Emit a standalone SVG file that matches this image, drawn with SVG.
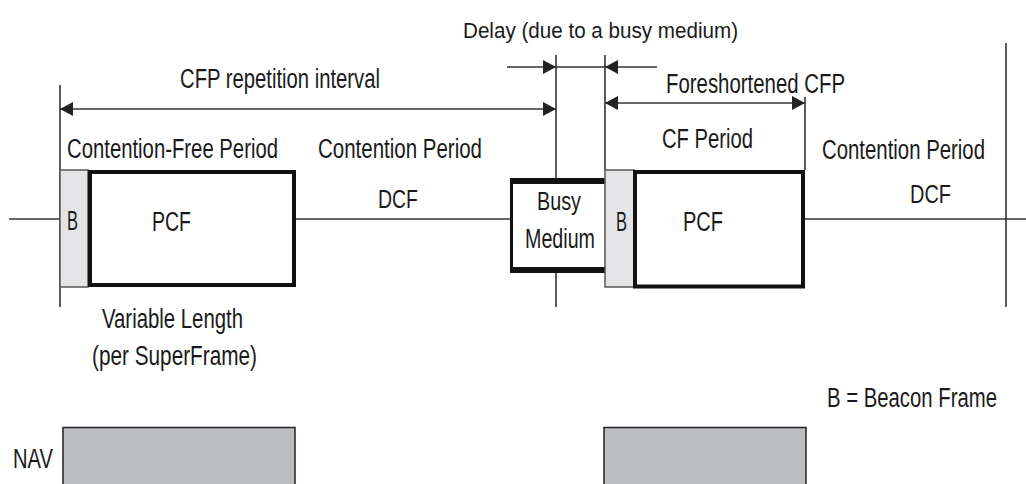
<svg xmlns="http://www.w3.org/2000/svg" width="1026" height="484" viewBox="0 0 1026 484">
<style>
text{font-family:"Liberation Sans",Arial,sans-serif;fill:#1a1a1a;font-size:20.3px}
.ln{stroke:#333;stroke-width:1.6;fill:none}
.beacon{fill:#e4e4e6;stroke:#555;stroke-width:1.5}
.pcf{fill:#fff;stroke:#111;stroke-width:4}
.nav{fill:#bcbdc1;stroke:#222;stroke-width:1.5}
</style>
<defs>
<marker id="ah" markerUnits="userSpaceOnUse" markerWidth="13" markerHeight="14" refX="13" refY="7" orient="auto-start-reverse" viewBox="0 0 13 14">
<path d="M0,0 L13,7 L0,14 z" fill="#222"/>
</marker>
</defs>
<rect width="1026" height="484" fill="#fff"/>
<g id="connectors">
<line class="ln" x1="9" y1="219" x2="60" y2="219"/>
<line class="ln" x1="296" y1="219" x2="510" y2="219"/>
<line class="ln" x1="805" y1="219" x2="1026" y2="219"/>
<line class="ln" x1="60" y1="85" x2="60" y2="307"/>
<line class="ln" x1="556" y1="55" x2="556" y2="307"/>
<line class="ln" x1="605" y1="55" x2="605" y2="170"/>
<line class="ln" x1="805" y1="97" x2="805" y2="170"/>
<line class="ln" x1="1006" y1="43" x2="1006" y2="307"/>
<line class="ln" x1="60" y1="109" x2="556" y2="109" marker-start="url(#ah)" marker-end="url(#ah)"/>
<line class="ln" x1="605" y1="103" x2="805" y2="103" marker-start="url(#ah)" marker-end="url(#ah)"/>
<line class="ln" x1="507" y1="67" x2="556" y2="67" marker-end="url(#ah)"/>
<line class="ln" x1="556" y1="67" x2="605" y2="67"/>
<line class="ln" x1="657" y1="67" x2="605" y2="67" marker-end="url(#ah)"/>
</g>
<g id="beacon1">
<rect class="beacon" x="60" y="170" width="28" height="117"/>
<text transform="translate(67 230) scale(1 1.38)" textLength="11" lengthAdjust="spacingAndGlyphs">B</text>
</g>
<g id="pcf1">
<rect class="pcf" x="90" y="172" width="204" height="113"/>
<text transform="translate(152 231) scale(1 1.38)" textLength="39" lengthAdjust="spacingAndGlyphs">PCF</text>
</g>
<g id="busy">
<rect x="511.5" y="180" width="93.5" height="90" fill="#fff"/>
<line x1="510" y1="181" x2="605" y2="181" stroke="#111" stroke-width="6"/>
<line x1="510" y1="270" x2="605" y2="270" stroke="#111" stroke-width="6"/>
<line x1="511.5" y1="178" x2="511.5" y2="273" stroke="#111" stroke-width="3"/>
<text transform="translate(537 210) scale(1 1.3)" font-size="19.5" textLength="44" lengthAdjust="spacingAndGlyphs">Busy</text>
<text transform="translate(525 248) scale(1 1.33)" font-size="19.5" textLength="70" lengthAdjust="spacingAndGlyphs">Medium</text>
</g>
<g id="beacon2">
<rect class="beacon" x="605" y="170" width="29" height="117"/>
<text transform="translate(616 231) scale(1 1.38)" textLength="11" lengthAdjust="spacingAndGlyphs">B</text>
</g>
<g id="pcf2">
<rect class="pcf" x="635" y="172" width="168" height="114.5"/>
<text transform="translate(683 231) scale(1 1.38)" textLength="40" lengthAdjust="spacingAndGlyphs">PCF</text>
</g>
<g id="nav1">
<rect class="nav" x="63" y="427.5" width="232" height="60"/>
</g>
<g id="nav2">
<rect class="nav" x="604" y="427.5" width="202" height="60"/>
</g>
<g id="labels">
<text transform="translate(463 38) scale(1 1.08)" font-size="20.5" textLength="275" lengthAdjust="spacingAndGlyphs">Delay (due to a busy medium)</text>
<text transform="translate(180 88) scale(1 1.38)" textLength="200" lengthAdjust="spacingAndGlyphs">CFP repetition interval</text>
<text transform="translate(666 93) scale(1 1.38)" textLength="179" lengthAdjust="spacingAndGlyphs">Foreshortened CFP</text>
<text transform="translate(67 158) scale(1 1.38)" textLength="211" lengthAdjust="spacingAndGlyphs">Contention-Free Period</text>
<text transform="translate(318 158) scale(1 1.38)" textLength="164" lengthAdjust="spacingAndGlyphs">Contention Period</text>
<text transform="translate(662 148) scale(1 1.38)" textLength="91" lengthAdjust="spacingAndGlyphs">CF Period</text>
<text transform="translate(822 159) scale(1 1.38)" textLength="163" lengthAdjust="spacingAndGlyphs">Contention Period</text>
<text transform="translate(378 208) scale(1 1.3)" font-size="19.5" textLength="40" lengthAdjust="spacingAndGlyphs">DCF</text>
<text transform="translate(910 203) scale(1 1.3)" font-size="19.5" textLength="41" lengthAdjust="spacingAndGlyphs">DCF</text>
<text transform="translate(102 328) scale(1 1.38)" textLength="141" lengthAdjust="spacingAndGlyphs">Variable Length</text>
<text transform="translate(92 365) scale(1 1.38)" textLength="165" lengthAdjust="spacingAndGlyphs">(per SuperFrame)</text>
<text transform="translate(827 407) scale(1 1.38)" textLength="170" lengthAdjust="spacingAndGlyphs">B = Beacon Frame</text>
<text transform="translate(13 468) scale(1 1.38)" textLength="40" lengthAdjust="spacingAndGlyphs">NAV</text>
</g>
</svg>
